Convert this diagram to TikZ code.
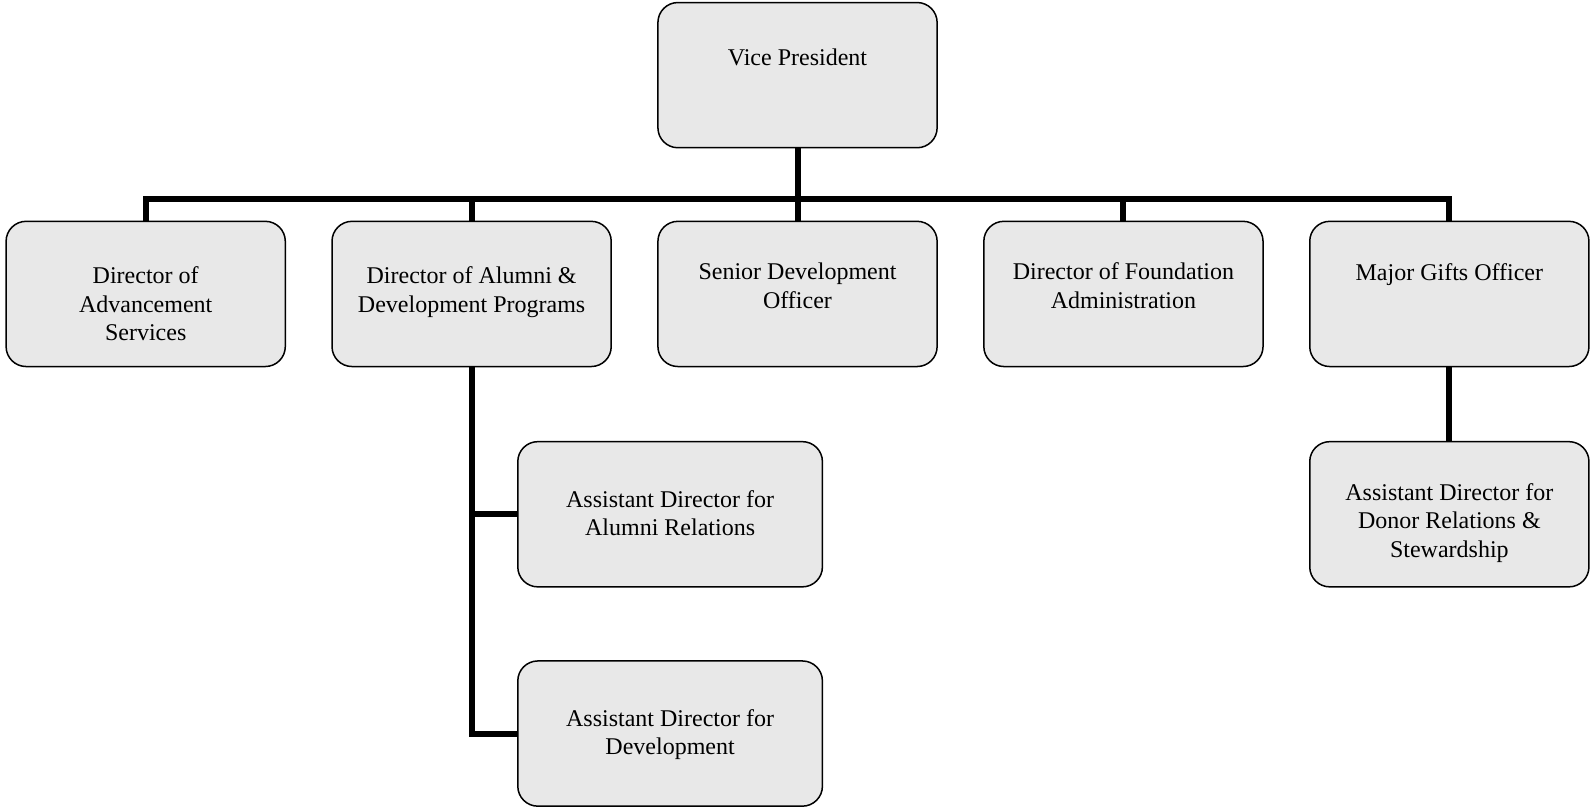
\documentclass[tikz,border=0pt]{standalone}
\usepackage{fontspec}
\setmainfont{Liberation Serif}
\usepackage{tikz}
\usetikzlibrary{positioning}
\definecolor{BoxGray}{HTML}{E8E8E8}
\tikzset{
  % Box styles
  posbox/.style={rectangle, rounded corners=10bp, draw=black, line width=0.75bp, fill=BoxGray, minimum width=139.6bp, minimum height=72.6bp, inner sep=0pt},
  widebox/.style={posbox, minimum width=152.3bp},
  postext/.style={font=\fontsize{12bp}{14.2bp}\selectfont, align=center, inner sep=0pt},
  % Connector style
  conn/.style={line width=3bp, black}
}
\begin{document}
\begin{tikzpicture}[x=0.50765bp, y=-0.50765bp]
  \useasboundingbox (0,0) rectangle (1568,797.8);

  % Top
  \node[posbox] (vp) at (785.5,74) {};
  \node[postext, below=23.3bp of vp.north] (vp-t) {Vice President};

  % Second row
  \node[posbox] (advs) at (143.5,289.5) {};
  \node[posbox] (alum) at (464.5,289.5) {};
  \node[posbox] (sdo) at (785.5,289.5) {};
  \node[posbox] (fnd) at (1106.5,289.5) {};
  \node[posbox] (mgo) at (1427.5,289.5) {};
  \node[postext, below=23bp of advs.north] (advs-t) {Director of\\Advancement\\Services};
  \node[postext, below=23bp of alum.north] (alum-t) {Director of Alumni \&\\Development Programs};
  \node[postext, below=21bp of sdo.north] (sdo-t) {Senior Development\\Officer};
  \node[postext, below=21bp of fnd.north] (fnd-t) {Director of Foundation\\Administration};
  \node[postext, below=21.5bp of mgo.north] (mgo-t) {Major Gifts Officer};

  % Third and fourth rows
  \node[widebox] (aar) at (660,506.5) {};
  \node[widebox] (aad) at (660,722.5) {};
  \node[posbox] (adr) at (1427.5,506.5) {};
  \node[postext, below=24.5bp of aar.north] (aar-t) {Assistant Director for\\Alumni Relations};
  \node[postext, below=24.5bp of aad.north] (aad-t) {Assistant Director for\\Development};
  \node[postext, below=21bp of adr.north] (adr-t) {Assistant Director for\\Donor Relations \&\\Stewardship};

  % Connectors
  \foreach \n in {advs,alum,sdo,fnd,mgo}
    \draw[conn] (vp.south) -- ++(0,50) -| (\n.north);
  \draw[conn] (alum.south) |- (aar.west);
  \draw[conn] (alum.south) |- (aad.west);
  \draw[conn] (mgo) -- (adr);
\end{tikzpicture}
\end{document}
